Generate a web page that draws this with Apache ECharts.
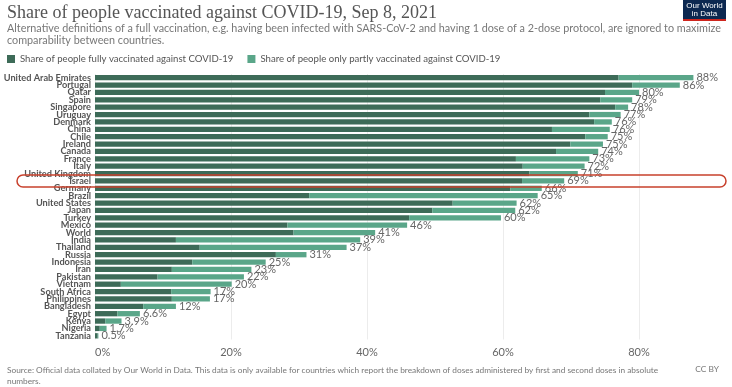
<!DOCTYPE html>
<html><head><meta charset="utf-8">
<script src="https://cdn.jsdelivr.net/npm/echarts@6/dist/echarts.min.js"></script>
<style>html,body{margin:0;padding:0;background:#fff}#c{width:732px;height:387px}</style>
</head><body><div id="c"></div>
<script>
const countries = ["United Arab Emirates","Portugal","Qatar","Spain","Singapore","Uruguay","Denmark","China","Chile","Ireland","Canada","France","Italy","United Kingdom","Israel","Germany","Brazil","United States","Japan","Turkey","Mexico","World","India","Thailand","Russia","Indonesia","Iran","Pakistan","Vietnam","South Africa","Philippines","Bangladesh","Egypt","Kenya","Nigeria","Tanzania"];
const fullyVaccinated = [77,79,75,74.3,76.5,72.7,73.4,67.2,72.1,69.9,67.8,61.9,62.9,63.9,62.8,61.1,31.5,52.6,49.6,46.2,28.3,29.2,11.9,15.4,26.6,14.3,11.3,9.2,3.8,11.2,11.3,7.1,3.3,1.5,0.7,0.4];
const partlyVaccinated = [11,7,5,4.7,1.9,4.6,2.6,8.5,3.3,4.8,6.2,10.8,9.1,7.1,6.2,4.6,33.6,9.4,12.2,13.5,17.6,12,27.1,21.6,4.5,10.8,11.7,12.7,16.3,5.8,5.6,4.8,3.3,2.4,1.0,0.1];
const xTicks = [0,20,40,60,80];
const highlighted = "Israel";

const chart = echarts.init(document.getElementById('c'), null, {renderer:'canvas'});
const F = 'Lato';
function fmtTotal(i){
  const t = fullyVaccinated[i] + partlyVaccinated[i];
  return (t < 10 ? t.toFixed(1) : Math.round(t)) + '%';
}
chart.setOption({
  animation:false,
  backgroundColor:'#fff',
  title:[
    {text:'Share of people vaccinated against COVID-19, Sep 8, 2021', left:2, top:-1,
     textStyle:{fontFamily:'Liberation Serif', fontSize:18, fontWeight:'normal', color:'#555'},
     subtext:'Alternative definitions of a full vaccination, e.g. having been infected with SARS-CoV-2 and having 1 dose of a 2-dose protocol, are ignored to maximize\ncomparability between countries.',
     itemGap:1,
     subtextStyle:{fontFamily:F, fontSize:10.8, color:'#777', lineHeight:12}},
    {text:'Source: Official data collated by Our World in Data. This data is only available for countries which report the breakdown of doses administered by first and second doses in absolute\nnumbers.',
     left:2, top:360, textStyle:{fontFamily:F, fontSize:8.3, fontWeight:'normal', color:'#777', lineHeight:11}},
    {text:'CC BY', right:8, top:360, textStyle:{fontFamily:F, fontSize:8.4, fontWeight:'normal', color:'#777'}}
  ],
  legend:{left:2, top:49, icon:'rect', itemWidth:8, itemHeight:8, itemGap:14,
    textStyle:{fontFamily:F, fontSize:9.6, color:'#555'},
    data:['Share of people fully vaccinated against COVID-19','Share of people only partly vaccinated against COVID-19']},
  grid:{left:95, right:93, top:74, bottom:47.5, outerBoundsMode:'none', containLabel:false},
  xAxis:{type:'value', min:0, max:80, interval:20,
    axisLine:{show:false}, axisTick:{show:false},
    splitLine:{show:true, lineStyle:{color:'#ececec'}},
    axisLabel:{formatter:v=>v+'%', fontFamily:F, fontSize:11, color:'#666', margin:7, alignMinLabel:'left'}},
  yAxis:{type:'category', inverse:true, data:countries,
    axisLine:{show:false}, axisTick:{show:false},
    axisLabel:{fontFamily:F, fontSize:9.2, fontWeight:'bold', color:'#555', margin:4, interval:0}},
  series:[
    {name:'Share of people fully vaccinated against COVID-19', type:'bar', stack:'v', data:fullyVaccinated,
     barCategoryGap:'28%', clip:false, itemStyle:{color:'#3d6b58'}},
    {name:'Share of people only partly vaccinated against COVID-19', type:'bar', stack:'v', data:partlyVaccinated,
     barCategoryGap:'28%', clip:false, itemStyle:{color:'#5aa689'},
     label:{show:true, position:'right', distance:3, fontFamily:F, fontSize:11, color:'#666',
       formatter:p=>fmtTotal(p.dataIndex)}}
  ]
});
const yc = chart.convertToPixel({yAxisIndex:0}, highlighted);
chart.setOption({graphic:[
  {type:'rect', shape:{x:17, y:yc-6, width:709, height:12, r:6}, z:100,
   style:{fill:'none', stroke:'#c8412d', lineWidth:1.5}},
  {type:'group', left:683, top:0, children:[
    {type:'rect', shape:{x:0,y:0,width:43,height:19}, style:{fill:'#0c2850'}},
    {type:'rect', shape:{x:0,y:19,width:43,height:2}, style:{fill:'#ce261e'}},
    {type:'text', x:21.5, y:2, style:{text:'Our World\nin Data', fill:'#fff', font:'8px "Liberation Sans Narrow", "Liberation Sans"', align:'center', lineHeight:8}}
  ]}
]});
</script></body></html>
